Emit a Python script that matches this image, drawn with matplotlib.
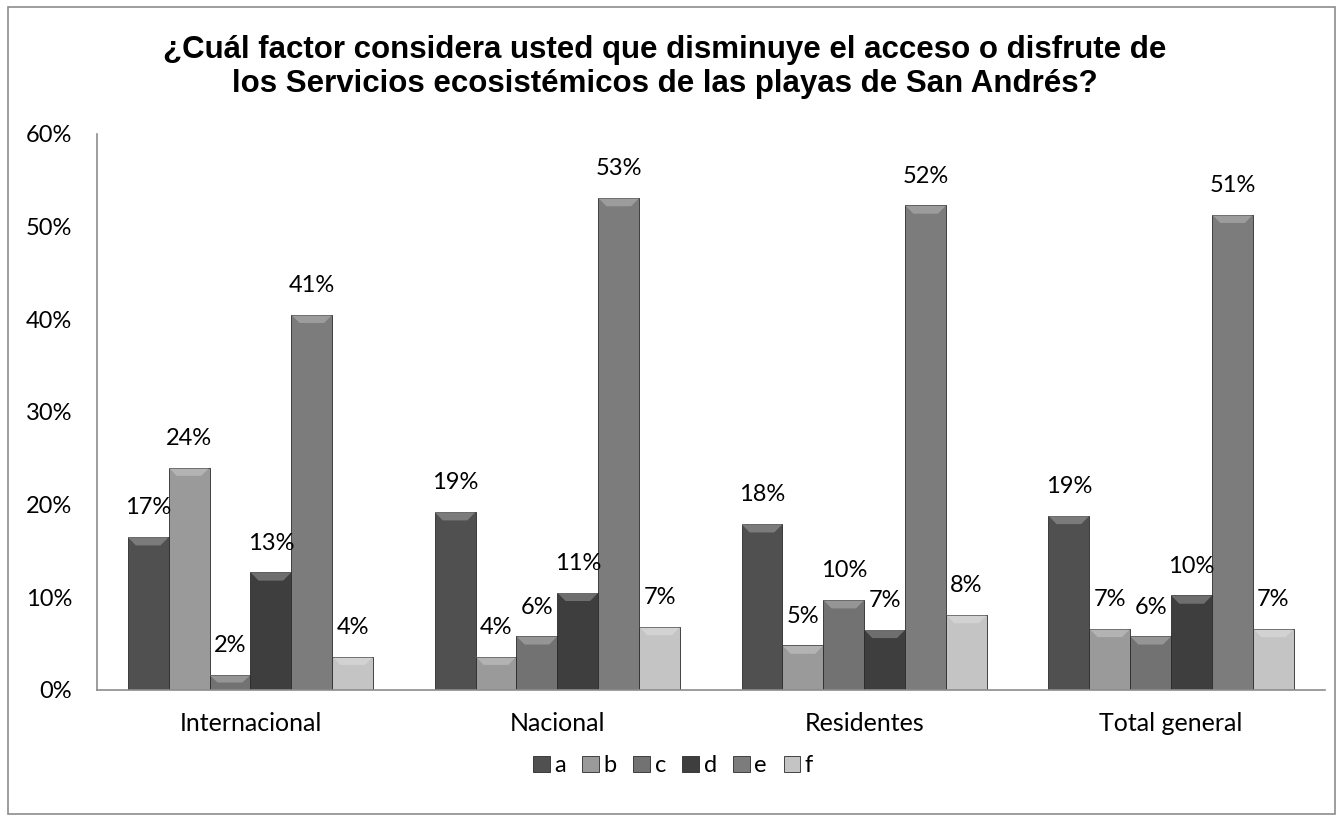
import matplotlib.pyplot as plt
import matplotlib.patches as mpatches
import numpy as np

# data
categories = ["Internacional", "Nacional", "Residentes", "Total general"]
series = ["a", "b", "c", "d", "e", "f"]
a = [16.5, 19.2, 17.9, 18.8]
b = [24.0, 3.6, 4.8, 6.6]
c = [1.6, 5.8, 9.7, 5.8]
d = [12.7, 10.5, 6.5, 10.2]
e = [40.5, 53.1, 52.3, 51.3]
f = [3.6, 6.8, 8.1, 6.6]
labels = [["17%", "19%", "18%", "19%"],
          ["24%", "4%", "5%", "7%"],
          ["2%", "6%", "10%", "6%"],
          ["13%", "11%", "7%", "10%"],
          ["41%", "53%", "52%", "51%"],
          ["4%", "7%", "8%", "7%"]]
colors = ["#505050", "#9a9a9a", "#727272", "#3e3e3e", "#7c7c7c", "#c4c4c4"]

values = [a, b, c, d, e, f]

plt.rcParams["font.family"] = ["Lato", "DejaVu Sans"]

fig = plt.figure(figsize=(13.38, 8.17), dpi=100)
ax = fig.add_axes([0.0725, 0.1555, 0.9175, 0.6805])

# outer chart border
fig.patches.append(mpatches.Rectangle((0.006, 0.004), 0.992, 0.987, transform=fig.transFigure,
                                      fill=False, edgecolor="#8c8c8c", linewidth=1.2))

x = np.arange(len(categories))
width = 0.8 / 6
handles = []
for i, (name, vals) in enumerate(zip(series, values)):
    pos = x - 0.4 + width * (i + 0.5)
    bars = ax.bar(pos, vals, width, color=colors[i], edgecolor="#2a2a2a", linewidth=0.6, label=name)
    handles.append(bars)
    for bar, lab in zip(bars, labels[i]):
        # light bevel at top of bar
        bx, bw, bh = bar.get_x(), bar.get_width(), bar.get_height()
        bev = min(0.9, bh * 0.5)
        ax.add_patch(mpatches.Polygon([(bx, bh), (bx + bw, bh), (bx + bw * 0.8, bh - bev), (bx + bw * 0.2, bh - bev)],
                                      closed=True, facecolor="white", alpha=0.25, edgecolor="none"))
        ax.annotate(lab, (bar.get_x() + bar.get_width() / 2, bh), xytext=(0, 21),
                    textcoords="offset points", ha="center", va="center", fontsize=17)

ax.set_xlim(-0.5, 3.5)
ax.set_ylim(0, 60)
ax.set_yticks(np.arange(0, 61, 10))
ax.set_yticklabels([f"{v}%" for v in range(0, 61, 10)], fontsize=17)
ax.set_xticks(x)
ax.set_xticklabels(categories, fontsize=18)
ax.tick_params(length=0)
ax.tick_params(axis="y", pad=18)
ax.tick_params(axis="x", pad=16)
for s in ["top", "right"]:
    ax.spines[s].set_visible(False)
for s in ["left", "bottom"]:
    ax.spines[s].set_color("#8c8c8c")
    ax.spines[s].set_linewidth(1.2)

fig.text(0.497, 0.918, "¿Cuál factor considera usted que disminuye el acceso o disfrute de\n"
         "los Servicios ecosistémicos de las playas de San Andrés?",
         ha="center", va="center", fontsize=22.5, fontweight="bold",
         family=["Liberation Sans", "DejaVu Sans"], linespacing=1.2)

fig.legend(handles=handles, labels=series, loc="center", bbox_to_anchor=(0.503, 0.063),
           ncol=6, frameon=False, fontsize=17, handlelength=0.7, handleheight=0.7,
           handletextpad=0.2, columnspacing=0.7)

fig.savefig("out.png", dpi=100)
